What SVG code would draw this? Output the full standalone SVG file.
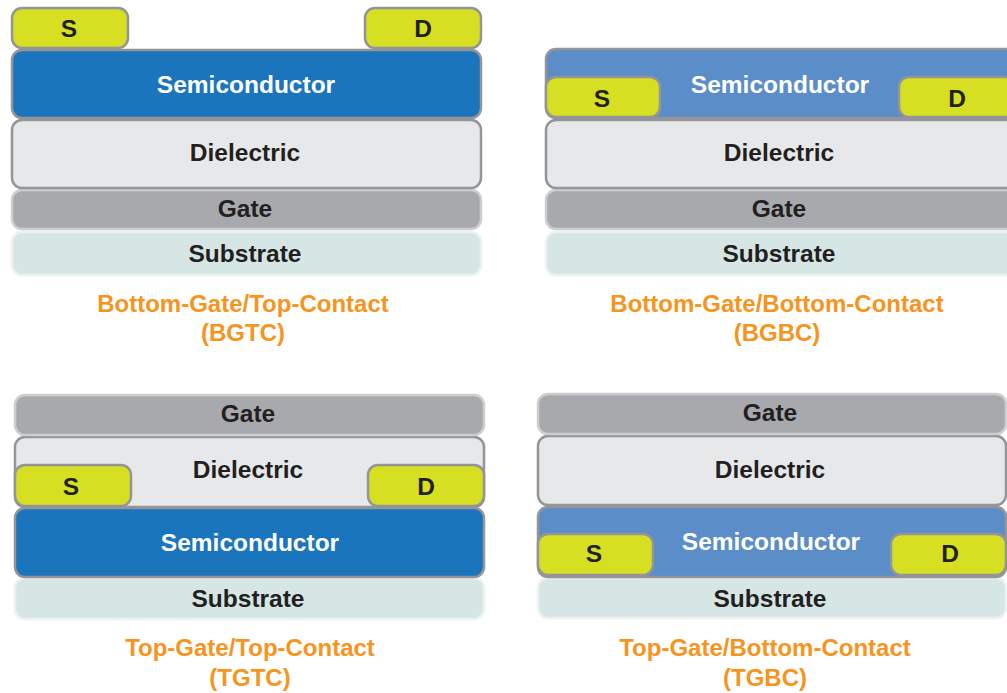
<svg xmlns="http://www.w3.org/2000/svg" width="1007" height="693" viewBox="0 0 1007 693">
<style>
.t{font-family:"Liberation Sans",Arial,sans-serif;font-weight:bold;font-size:24.5px;text-anchor:middle;fill:#231f20}
.w{fill:#ffffff}
.cap{font-family:"Liberation Sans",Arial,sans-serif;font-weight:bold;font-size:24px;text-anchor:middle;fill:#f7941d}
.sc{fill:#1b75bc;stroke:#939598;stroke-width:2.5}
.scl{fill:#5b8dc8;stroke:#939598;stroke-width:2.5}
.di{fill:#e7e8e9;stroke:#939598;stroke-width:2.5}
.ga{fill:#a7a9ac;stroke:#cdced0;stroke-width:2.5}
.su{fill:#d5e6e5;stroke:#ecf2f2;stroke-width:2.5}
.ct{fill:#d7df23;stroke:#939598;stroke-width:2.5}
</style>
<rect width="1007" height="693" fill="#ffffff"/>
<g id="connectors"></g>

<!-- Panel 1: BGTC -->
<g id="bgtc">
<g id="bgtc-substrate"><rect class="su" x="12" y="232" width="469" height="43" rx="10"/><text class="t" x="245" y="262">Substrate</text></g>
<g id="bgtc-gate"><rect class="ga" x="12" y="190" width="469" height="39" rx="10"/><text class="t" x="245" y="217">Gate</text></g>
<g id="bgtc-dielectric"><rect class="di" x="12" y="120" width="469" height="68" rx="10"/><text class="t" x="245" y="161">Dielectric</text></g>
<g id="bgtc-semiconductor"><rect class="sc" x="12" y="50" width="469" height="68" rx="10"/><text class="t w" x="246" y="93">Semiconductor</text></g>
<g id="bgtc-source"><rect class="ct" x="12" y="8" width="116" height="40" rx="10"/><text class="t" x="69" y="37">S</text></g>
<g id="bgtc-drain"><rect class="ct" x="365" y="8" width="116" height="40" rx="10"/><text class="t" x="423" y="37">D</text></g>
<g id="bgtc-caption"><text class="cap" x="243" y="312">Bottom-Gate/Top-Contact</text><text class="cap" x="243" y="341">(BGTC)</text></g>
</g>

<!-- Panel 2: BGBC -->
<g id="bgbc">
<g id="bgbc-substrate"><rect class="su" x="546" y="232" width="470" height="43" rx="10"/><text class="t" x="779" y="262">Substrate</text></g>
<g id="bgbc-gate"><rect class="ga" x="546" y="190" width="470" height="39" rx="10"/><text class="t" x="779" y="217">Gate</text></g>
<g id="bgbc-dielectric"><rect class="di" x="546" y="120" width="470" height="68" rx="10"/><text class="t" x="779" y="161">Dielectric</text></g>
<g id="bgbc-semiconductor"><rect class="scl" x="546" y="49" width="470" height="69" rx="10"/><text class="t w" x="780" y="93">Semiconductor</text></g>
<g id="bgbc-source"><rect class="ct" x="546" y="77" width="114" height="40" rx="10"/><text class="t" x="602" y="107">S</text></g>
<g id="bgbc-drain"><rect class="ct" x="899" y="77" width="116" height="40" rx="10"/><text class="t" x="957" y="107">D</text></g>
<g id="bgbc-caption"><text class="cap" x="777" y="312">Bottom-Gate/Bottom-Contact</text><text class="cap" x="777" y="341">(BGBC)</text></g>
</g>

<!-- Panel 3: TGTC -->
<g id="tgtc">
<g id="tgtc-substrate"><rect class="su" x="15" y="578" width="469" height="41" rx="10"/><text class="t" x="248" y="607">Substrate</text></g>
<g id="tgtc-semiconductor"><rect class="sc" x="15" y="508" width="469" height="69" rx="10"/><text class="t w" x="250" y="551">Semiconductor</text></g>
<g id="tgtc-dielectric"><rect class="di" x="15" y="437" width="469" height="70" rx="10"/><text class="t" x="248" y="478">Dielectric</text></g>
<g id="tgtc-gate"><rect class="ga" x="15" y="395" width="469" height="40" rx="10"/><text class="t" x="248" y="422">Gate</text></g>
<g id="tgtc-source"><rect class="ct" x="15" y="465" width="116" height="41" rx="10"/><text class="t" x="71" y="495">S</text></g>
<g id="tgtc-drain"><rect class="ct" x="368" y="465" width="116" height="41" rx="10"/><text class="t" x="426" y="495">D</text></g>
<g id="tgtc-caption"><text class="cap" x="250" y="656">Top-Gate/Top-Contact</text><text class="cap" x="250" y="686">(TGTC)</text></g>
</g>

<!-- Panel 4: TGBC -->
<g id="tgbc">
<g id="tgbc-substrate"><rect class="su" x="538" y="578" width="468" height="40" rx="10"/><text class="t" x="770" y="607">Substrate</text></g>
<g id="tgbc-semiconductor"><rect class="scl" x="538" y="507" width="468" height="70" rx="10"/><text class="t w" x="771" y="550">Semiconductor</text></g>
<g id="tgbc-dielectric"><rect class="di" x="538" y="436" width="468" height="69" rx="10"/><text class="t" x="770" y="478">Dielectric</text></g>
<g id="tgbc-gate"><rect class="ga" x="538" y="394" width="468" height="40" rx="10"/><text class="t" x="770" y="421">Gate</text></g>
<g id="tgbc-source"><rect class="ct" x="538" y="534" width="115" height="41" rx="10"/><text class="t" x="594" y="562">S</text></g>
<g id="tgbc-drain"><rect class="ct" x="891" y="534" width="115" height="41" rx="10"/><text class="t" x="950" y="562">D</text></g>
<g id="tgbc-caption"><text class="cap" x="765" y="656">Top-Gate/Bottom-Contact</text><text class="cap" x="765" y="686">(TGBC)</text></g>
</g>
</svg>
